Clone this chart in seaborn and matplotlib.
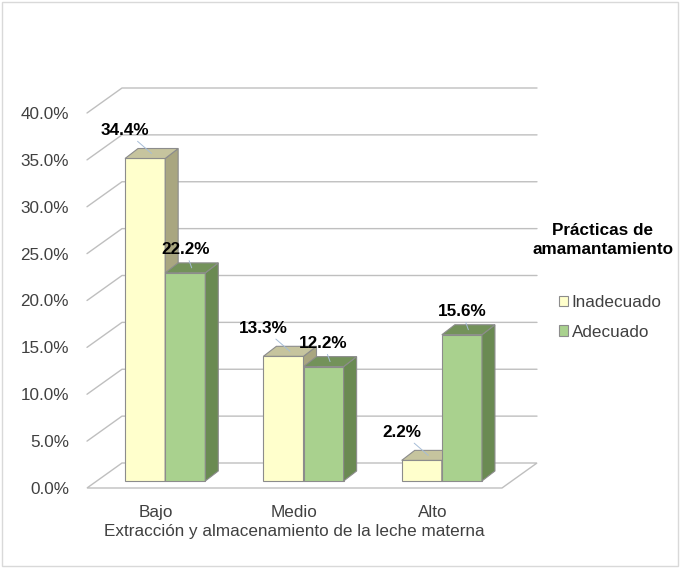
import numpy as np
import pandas as pd
import matplotlib
matplotlib.use('Agg')
import matplotlib.pyplot as plt
import seaborn as sns
from matplotlib.patches import Polygon, Rectangle

# ---- data ----
categorias = ['Bajo', 'Medio', 'Alto']
series = ['Inadecuado', 'Adecuado']
inadecuado = [34.4, 13.3, 2.2]
adecuado = [22.2, 12.2, 15.6]
yticks = [0, 5, 10, 15, 20, 25, 30, 35, 40]
xlabel = 'Extracción y almacenamiento de la leche materna'
legend_title = 'Prácticas de\namamantamiento'

df = pd.DataFrame({
    'cat': categorias * 2,
    'serie': [series[0]] * len(categorias) + [series[1]] * len(categorias),
    'val': inadecuado + adecuado,
})
vals = [inadecuado, adecuado]

sns.set_theme(style='white')
plt.rcParams['font.family'] = ['Liberation Sans', 'DejaVu Sans']

W, H = 680, 568
fig = plt.figure(figsize=(W / 100, H / 100), dpi=100)
FS = 12.3

# axes geometry (pixels)
x_left, x_front_right, y0_px = 87, 502, 488
px_x = (x_front_right - x_left) / 3.0
px_y = 9.375
xmin, xmax, ymax = -0.5, 2.8, 43
ax = fig.add_axes([x_left / W, (H - y0_px) / H,
                   (xmax - xmin) * px_x / W, ymax * px_y / H])

front_cols = ['#FFFFCC', '#A9D18E']
top_cols = ['#C6C49E', '#73925A']
side_cols = ['#A9A680', '#6A8A52']
edge = '#8C8C8C'

sns.barplot(data=df, x='cat', y='val', hue='serie', order=categorias,
            hue_order=series, palette=front_cols, saturation=1, width=0.58,
            edgecolor=edge, linewidth=0.8, ax=ax)
handles, labels = ax.get_legend_handles_labels()
if ax.get_legend() is not None:
    ax.get_legend().remove()

ax.set_xlim(xmin, xmax)
ax.set_ylim(0, ymax)
for s in ax.spines.values():
    s.set_visible(False)

# 3D offsets in data units
bx, by = 35 / px_x, 25 / px_y      # back wall
ox, oy = 9 / px_x, 7 / px_y        # bars front plane
ddx, ddy = 13 / px_x, 10 / px_y    # bar depth
grid_c = '#BFBFBF'

floor = Polygon([(-0.5, 0), (2.5, 0), (2.5 + bx, by), (-0.5 + bx, by)],
                closed=True, facecolor='white', edgecolor=grid_c, lw=1,
                zorder=1, clip_on=False)
ax.add_patch(floor)
for v in yticks[1:]:
    ax.plot([-0.5, -0.5 + bx, 2.5 + bx], [v, v + by, v + by],
            color=grid_c, lw=1, zorder=1, clip_on=False)

lab_off = [(-20, 28), (0, 23)]
for i, cont in enumerate(ax.containers):
    for bar, v in zip(cont, vals[i]):
        bar.set_x(bar.get_x() + ox)
        bar.set_y(oy)
        bar.set_zorder(3 + i)
        x0 = bar.get_x()
        x1 = x0 + bar.get_width()
        y0 = oy
        y1 = oy + bar.get_height()
        top = Polygon([(x0, y1), (x1, y1), (x1 + ddx, y1 + ddy), (x0 + ddx, y1 + ddy)],
                      closed=True, facecolor=top_cols[i], edgecolor=edge, lw=0.8,
                      zorder=3 + i)
        side = Polygon([(x1, y0), (x1 + ddx, y0 + ddy), (x1 + ddx, y1 + ddy), (x1, y1)],
                       closed=True, facecolor=side_cols[i], edgecolor=edge, lw=0.8,
                       zorder=3 + i)
        ax.add_patch(side)
        ax.add_patch(top)
        xc = (x0 + x1) / 2
        lx, ly = lab_off[i]
        ax.annotate(f'{v:.1f}%', xy=(xc + ddx / 2, y1 + ddy / 2),
                    xytext=(lx - 6.5, ly - 5), textcoords='offset pixels',
                    ha='center', va='center', fontsize=FS, fontweight='bold',
                    color='black', zorder=10,
                    arrowprops=dict(arrowstyle='-', color='#A6BDD7', lw=0.7,
                                    shrinkA=0, shrinkB=0))

ax.set_yticks(yticks)
ax.set_yticklabels([f'{v:.1f}%' for v in yticks])
ax.set_xticks(range(len(categorias)))
ax.set_xticklabels(categorias)
ax.tick_params(axis='y', length=0, pad=13, labelsize=FS, labelcolor='#404040')
ax.tick_params(axis='x', length=0, pad=12, labelsize=FS, labelcolor='#404040')
ax.set_xlabel(xlabel, fontsize=FS, color='#404040')
ax.xaxis.set_label_coords(0.455, -0.09)
ax.set_ylabel('')
ax.grid(False)

fig.text(603 / W, 1 - 240 / H, legend_title, ha='center', va='center',
         fontsize=FS, fontweight='bold', color='black', linespacing=1.4)
leg = ax.legend(handles, labels, loc='upper left',
                bbox_to_anchor=(559 / W, 1 - 295 / H), bbox_transform=fig.transFigure,
                frameon=False, fontsize=FS, handlelength=0.55, handleheight=0.55,
                handletextpad=0.2, labelspacing=0.85, borderpad=0, borderaxespad=0)
for t in leg.get_texts():
    t.set_color('#404040')

fig.add_artist(Rectangle((2 / W, 2 / H), (W - 4) / W, (H - 4) / H,
                         transform=fig.transFigure, fill=False,
                         edgecolor='#D9D9D9', lw=1))

fig.savefig('out.png', dpi=100)
